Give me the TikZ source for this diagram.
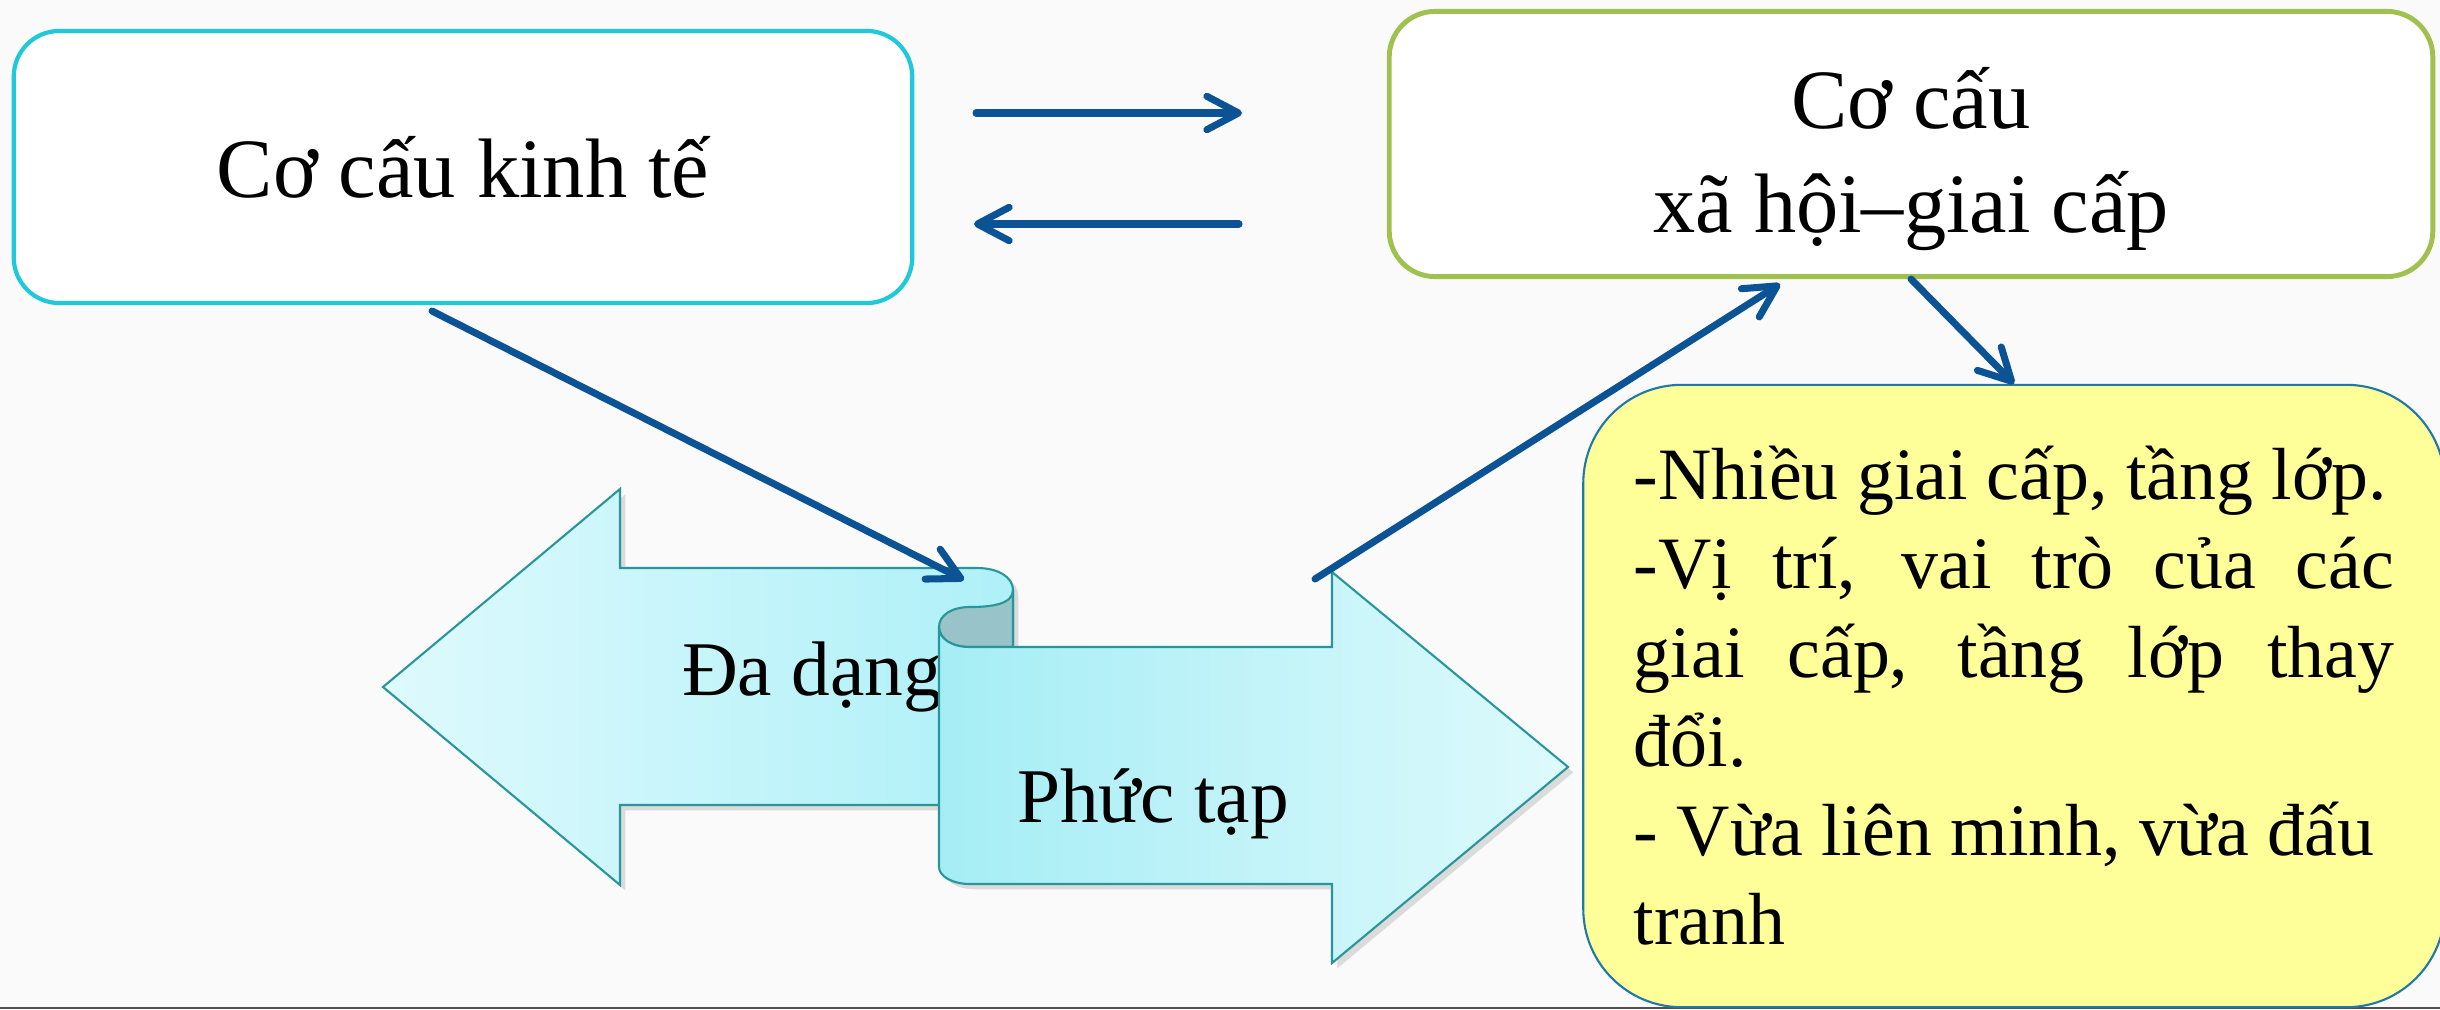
\documentclass[tikz,border=0pt]{standalone}
\usepackage{fontspec}
\setmainfont{Liberation Serif}
\usepackage{tikz}
\usetikzlibrary{arrows.meta}
\usetikzlibrary{shadows}

\definecolor{nen}{RGB}{250,250,250}
\definecolor{vienday}{RGB}{80,80,80}
\definecolor{vienxanh}{RGB}{32,201,217}
\definecolor{vienla}{RGB}{160,192,80}
\definecolor{muitenblue}{RGB}{11,83,148}
\definecolor{nenvang}{RGB}{255,255,153}
\definecolor{vienvang}{RGB}{30,120,170}
\definecolor{vienteal}{RGB}{40,150,155}
\definecolor{traitrai}{RGB}{222,250,253}
\definecolor{traiphai}{RGB}{175,240,248}
\definecolor{phaitrai}{RGB}{165,237,245}
\definecolor{phaiphai}{RGB}{222,250,252}
\definecolor{cuonsau}{RGB}{152,195,200}

\begin{document}
\begin{tikzpicture}[x=0.01cm, y=-0.01cm,
    every node/.style={inner sep=0pt, align=center},
    khung/.style={draw, fill=white, rounded corners=13pt, line width=1.2pt,
                  font=\fontsize{24pt}{29.6pt}\selectfont},
    muiten/.style={draw=muitenblue, line width=2pt, line cap=round,
                   -{Straight Barb[length=9pt, width=9.5pt, round]}},
    manh/.style={draw=vienteal, line width=0.6pt},
    bong/.style={drop shadow={opacity=0.25, shadow xshift=1.5pt, shadow yshift=-1.5pt}},
    chu/.style={anchor=base, font=\fontsize{22pt}{26pt}\selectfont}]
\useasboundingbox (0,0) rectangle (2440,1009);
\clip (0,0) rectangle (2440,1009);
\fill[nen] (0,0) rectangle (2440,1009);
\draw[vienday, line width=0.6pt] (0,1008) -- (2440,1008);

\path[manh, bong, left color=traitrai, right color=traiphai]
    (383,687) -- (620,489) -- (620,568) -- (977,568)
    .. controls (998,568) and (1013,577) .. (1013,590)
    -- (1013,805) -- (620,805) -- (620,885) -- cycle;
\node[chu] (dadang) at (812,695) {Đa dạng};
\path[manh, fill=cuonsau]
    (939,627) .. controls (939,615) and (952,607) .. (970,607)
    .. controls (992,607) and (1013,604) .. (1013,590)
    -- (1013,647) -- (970,647)
    .. controls (952,647) and (939,639) .. (939,627) -- cycle;
\path[manh, bong, left color=phaitrai, right color=phaiphai]
    (939,627) .. controls (939,639) and (952,647) .. (970,647)
    -- (1332,647) -- (1332,572) -- (1568,767) -- (1332,963) -- (1332,884) -- (970,884)
    .. controls (952,884) and (939,876) .. (939,867) -- cycle;
\node[chu] (phuctap) at (1153,822) {Phức tạp};

\node[khung, draw=vienxanh, minimum width=8.98cm, minimum height=2.72cm] (kinhte) at (463,167) {Cơ cấu kinh tế};
\node[khung, draw=vienla, line width=1.4pt, minimum width=10.43cm, minimum height=2.65cm] (xahoi) at (1911,144) {\rule{0pt}{26pt}Cơ cấu\\xã hội–giai cấp};
\node[draw=vienvang, fill=nenvang, rounded corners=28pt, line width=0.6pt,
      minimum width=8.61cm, minimum height=6.22cm, text width=7.6cm, align=justify,
      font=\fontsize{21pt}{25.3pt}\selectfont] (dacdiem) at (2014,696)
    {-Nhiều giai cấp, tầng lớp.\\
     -Vị trí, vai trò của các\linebreak giai cấp, tầng lớp thay\linebreak đổi.\\
     - Vừa liên minh, vừa đấu\\ tranh};

\coordinate (sang1) at (976,113);
\coordinate (sang2) at (1242,113);
\coordinate (ve1) at (1239,224);
\coordinate (ve2) at (974,224);
\coordinate (kt1) at (432,311);
\coordinate (cuon) at (964,580);
\coordinate (mui1) at (1315,579);
\coordinate (xh1) at (1780,284);
\draw[muiten] (sang1) -- (sang2);
\draw[muiten] (ve1) -- (ve2);
\draw[muiten] (kt1) -- (cuon);
\draw[muiten] (mui1) -- (xh1);
\draw[muiten] (xahoi.south) -- (dacdiem.north);
\end{tikzpicture}
\end{document}
